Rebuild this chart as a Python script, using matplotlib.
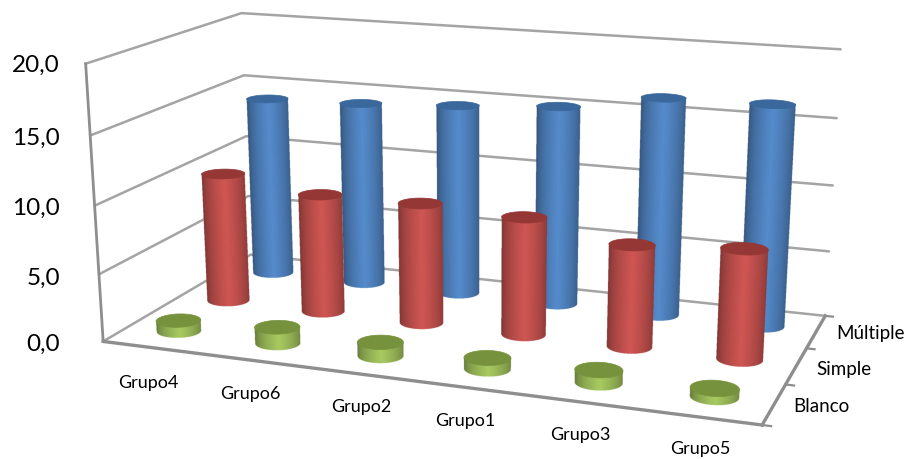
import numpy as np
import matplotlib
matplotlib.use("Agg")
import matplotlib.pyplot as plt

plt.rcParams['font.family'] = ['Lato', 'DejaVu Sans']

# Chart data
grupos = ["Grupo4", "Grupo6", "Grupo2", "Grupo1", "Grupo3", "Grupo5"]
series_names = ["Blanco", "Simple", "Múltiple"]
blanco = [0.8, 1.2, 1.0, 0.8, 0.9, 0.6]
simple = [9.9, 9.0, 9.05, 8.75, 7.5, 8.0]
multiple = [14.1, 14.3, 14.7, 15.2, 16.4, 16.5]
value_ticks = [0, 5, 10, 15, 20]
value_labels = ["0,0", "5,0", "10,0", "15,0", "20,0"]
value_max = 20.0

# Box corners in the figure: (category, depth, height) -> canvas position
box_3d = [(0, 0, 0), (1, 0, 0), (1, 1, 0), (0, 1, 0), (0, 0, 1), (0, 1, 1), (1, 1, 1)]
box_2d = [(102, 343), (762, 424), (825, 317), (252, 253), (87, 63), (240, 14), (841, 49)]


def fit_camera(world, canvas):
    """Least-squares projective camera through the box corners."""
    rows, rhs = [], []
    for (a, b, c), (x, y) in zip(world, canvas):
        rows.append([a, b, c, 1, 0, 0, 0, 0, -x * a, -x * b, -x * c])
        rhs.append(x)
        rows.append([0, 0, 0, 0, a, b, c, 1, -y * a, -y * b, -y * c])
        rhs.append(y)
    p = np.linalg.lstsq(np.array(rows, float), np.array(rhs, float), rcond=None)[0]
    return np.append(p, 1.0).reshape(3, 4)


CAM = fit_camera(box_3d, box_2d)


def project(u, v, w):
    u, v, w = np.broadcast_arrays(u, v, w)
    pts = np.stack([u, v, w, np.ones_like(u, dtype=float)])
    out = np.tensordot(CAM, pts, axes=1)
    return out[0] / out[2], out[1] / out[2]


def near_arc(xs, ys):
    """Near half of a projected circle, sorted left to right."""
    left, right = int(np.argmin(xs)), int(np.argmax(xs))
    count = len(xs)
    one = (right + np.arange((left - right) % count + 1)) % count
    two = (right - np.arange((right - left) % count + 1)) % count
    arc = one if ys[one].mean() > ys[two].mean() else two
    arc = arc[np.argsort(xs[arc])]
    return xs[arc], ys[arc]


def draw_cylinder(ax, u0, v0, value, body, cap, ru=0.034, rv=0.065, sample=4):
    theta = np.linspace(0, 2 * np.pi, 360, endpoint=False)
    uc = u0 + ru * np.cos(theta)
    vc = v0 + rv * np.sin(theta)
    w = value / value_max
    xb, yb = project(uc, vc, 0.0)
    xt, yt = project(uc, vc, w)
    ax_b, ay_b = near_arc(xb, yb)
    ax_t, ay_t = near_arc(xt, yt)

    # fine grid covering the side of the cylinder
    x0, x1 = np.floor(min(xb.min(), xt.min())) - 2, np.ceil(max(xb.max(), xt.max())) + 2
    y0, y1 = np.floor(yt.min()) - 2, np.ceil(yb.max()) + 2
    gx = np.arange(x0, x1, 1 / sample) + 0.5 / sample
    gy = np.arange(y0, y1, 1 / sample) + 0.5 / sample
    X, Y = np.meshgrid(gx, gy)

    # silhouette lines run from the extreme points of the top circle to those of the base circle
    s = (Y - ay_t[0]) / (ay_b[0] - ay_t[0])
    left = ax_t[0] + s * (ax_b[0] - ax_t[0])
    s = (Y - ay_t[-1]) / (ay_b[-1] - ay_t[-1])
    right = ax_t[-1] + s * (ax_b[-1] - ax_t[-1])
    t = (X - left) / (right - left)

    # arcs closing the side at the bottom and under the cap
    t_base = (ax_b - ax_b[0]) / (ax_b[-1] - ax_b[0])
    t_top = (ax_t - ax_t[0]) / (ax_t[-1] - ax_t[0])
    low = np.interp(t, t_base, ay_b)
    high = np.interp(t, t_top, ay_t) - 2.0
    inside = (t >= 0) & (t <= 1) & (Y <= low) & (Y >= high)

    # bright band near the axis, falling off to both edges
    glow = np.clip(1 - np.abs(np.clip(t, 0, 1) - 0.52) / 0.52, 0, 1) ** 0.55
    base = np.array(matplotlib.colors.to_rgb(body))
    rgb = base[None, None, :] * (0.62 + 0.46 * glow)[:, :, None]
    rgba = np.dstack([np.clip(rgb, 0, 1), inside.astype(float)])
    ax.imshow(rgba, extent=[x0, x0 + len(gx) / sample, y0 + len(gy) / sample, y0],
              origin="upper", aspect="auto", interpolation="hanning", zorder=2)
    ax.fill(xt, yt, color=cap, lw=0.5, zorder=2)


fig = plt.figure(figsize=(9.08, 4.59), dpi=100)
ax = fig.add_axes([0, 0, 1, 1])
ax.axis("off")

grid_color = "#a4a4a4"
edge_color = "#8e8e8e"

# Gridlines across the side wall and the back wall
for tick in value_ticks:
    w = tick / value_max
    x, y = project(np.array([0, 0, 1.0]), np.array([0, 1, 1.0]), w)
    ax.plot(x, y, color=grid_color, lw=1.8, solid_capstyle="round", zorder=1)

# Front edges of the box
x, y = project(np.array([0, 0.0]), 0.0, np.array([0, 1.0]))
ax.plot(x, y, color=edge_color, lw=2.0, zorder=1)
x, y = project(np.array([0, 1.0]), 0.0, 0.0)
ax.plot(x, y, color=edge_color, lw=2.4, zorder=1)
x, y = project(1.0, np.array([0, 1.0]), 0.0)
ax.plot(x, y, color=edge_color, lw=2.4, zorder=1)

# Small depth ticks on the right floor edge
for v in (0.0, 1 / 3, 2 / 3, 1.0):
    x, y = project(np.array([1.0, 1.012]), v, 0.0)
    ax.plot(x, y, color=edge_color, lw=1.6, zorder=1)

# Cylinders, back row first so nearer rows overlap
rows = [
    (multiple, 5 / 6, "#4f81bd", "#3a689c"),
    (simple, 3 / 6, "#c0504d", "#953735"),
    (blanco, 1 / 6, "#9bbb59", "#76923c"),
]
for values, v0, body, cap in rows:
    for i, val in enumerate(values):
        draw_cylinder(ax, (i + 0.5) / len(values), v0, val, body, cap)

ax.set_xlim(0, 908)
ax.set_ylim(459, 0)

# Value axis labels
label_y = [344, 278, 208, 138, 65]
for text, yy in zip(value_labels, label_y):
    ax.text(60, yy, text, ha="right", va="center", fontsize=17.5, color="black")

# Category labels under the front edge
cat_pos = [(148, 383), (250, 394), (361, 407), (465, 421), (580, 435), (700, 449)]
for name, (xx, yy) in zip(grupos, cat_pos):
    ax.text(xx, yy, name, ha="center", va="center", fontsize=13, color="black")

# Depth axis labels
ser_pos = [(793, 407), (816, 369), (836, 334)]
for name, (xx, yy) in zip(series_names, ser_pos):
    ax.text(xx, yy, name, ha="left", va="center", fontsize=13.5, color="black")

fig.savefig("out.png", dpi=100)
